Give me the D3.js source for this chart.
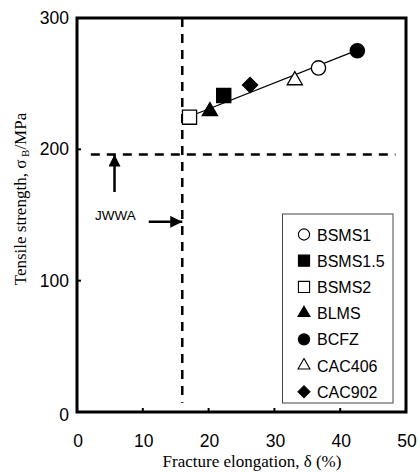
<!DOCTYPE html>
<html>
<head>
<meta charset="utf-8">
<script src="https://cdn.jsdelivr.net/npm/d3@7"></script>
<style>
  body { margin: 0; background: #fff; }
  svg { display: block; }
</style>
</head>
<body>
<div id="chart"></div>
<script>
// Data
const series = ["BSMS1", "BSMS1.5", "BSMS2", "BLMS", "BCFZ", "CAC406", "CAC902"];
const elongation = [36.7, 22.3, 17.1, 20.2, 42.6, 33.1, 26.3];
const strength = [262, 241, 224.5, 229, 275, 252.5, 249];
const shapes = ["circle", "square", "square", "triangle", "circle", "triangle", "diamond"];
const filled = [false, true, false, true, true, false, true];

const trendX = [17.1, 42.6];
const trendY = [225, 275.5];

const xTicks = [0, 10, 20, 30, 40, 50];
const yTicks = [0, 100, 200, 300];

// JWWA limits
const jwwaStrength = 196;
const jwwaElong = 16;

const width = 420, height = 472;
const margin = { left: 77, top: 18, right: 14, bottom: 60 };

const svg = d3.select('#chart')
    .append('svg')
    .attr('width', width)
    .attr('height', height);

const x = d3.scaleLinear().domain([0, 50]).range([margin.left, width - margin.right]);
const y = d3.scaleLinear().domain([0, 300]).range([height - margin.bottom, margin.top]);

const sans = "'Liberation Sans', Arial, sans-serif";
const serif = "'Liberation Serif', 'Times New Roman', serif";

// Reference lines
svg.append("line")
    .attr("x1", x(2.1)).attr("x2", x(48.4))
    .attr("y1", y(jwwaStrength)).attr("y2", y(jwwaStrength))
    .style("stroke", "#000").style("stroke-width", 2.5)
    .style("stroke-dasharray", "9,7");

svg.append("line")
    .attr("x1", x(jwwaElong)).attr("x2", x(jwwaElong))
    .attr("y1", y(300)).attr("y2", y(7))
    .style("stroke", "#000").style("stroke-width", 2.5)
    .style("stroke-dasharray", "9,7");

// Arrows
const defs = svg.append("defs");
defs.append("marker")
    .attr("id", "arrow")
    .attr("viewBox", "0 0 12 12")
    .attr("refX", 12).attr("refY", 6)
    .attr("markerWidth", 12).attr("markerHeight", 12)
    .attr("markerUnits", "userSpaceOnUse")
    .attr("orient", "auto")
    .append("path")
    .attr("d", "M0,0 L12,6 L0,12 Z")
    .style("fill", "#000");

svg.append("line")
    .attr("x1", x(5.7)).attr("x2", x(5.7))
    .attr("y1", y(167.5)).attr("y2", y(jwwaStrength))
    .style("stroke", "#000").style("stroke-width", 2.5)
    .attr("marker-end", "url(#arrow)");

svg.append("line")
    .attr("x1", x(10.9)).attr("x2", x(jwwaElong))
    .attr("y1", y(144.8)).attr("y2", y(144.8))
    .style("stroke", "#000").style("stroke-width", 2.5)
    .attr("marker-end", "url(#arrow)");

svg.append("text")
    .attr("x", 95).attr("y", 220)
    .style("font-family", sans).style("font-size", "13.5px")
    .text("JWWA");

// Trend line
svg.append("line")
    .attr("x1", x(trendX[0])).attr("y1", y(trendY[0]))
    .attr("x2", x(trendX[1])).attr("y2", y(trendY[1]))
    .style("stroke", "#000").style("stroke-width", 1.2);

// Marker shapes
function symbolPath(shape, big) {
    const k = big ? 1 : 0.62;
    switch (shape) {
        case "circle": return d3.symbol(d3.symbolCircle, 160 * k)();
        case "square": return d3.symbol(d3.symbolSquare, 200 * k)();
        case "triangle": return d3.symbol(d3.symbolTriangle, 100 * k)();
        case "diamond": return d3.symbol(d3.symbolSquare, 115 * k)();
    }
}

const points = series.map((name, i) => ({
    name, x: elongation[i], y: strength[i], shape: shapes[i], filled: filled[i]
}));

svg.append("g")
    .selectAll("path")
    .data(points)
    .join("path")
    .attr("d", d => symbolPath(d.shape, true))
    .attr("transform", d => `translate(${x(d.x)},${y(d.y)})` + (d.shape === "diamond" ? " rotate(45)" : ""))
    .style("fill", d => d.filled ? "#000" : "#fff")
    .style("stroke", "#000")
    .style("stroke-width", 1.3);

// Frame
svg.append("rect")
    .attr("x", x(0)).attr("y", y(300))
    .attr("width", x(50) - x(0)).attr("height", y(0) - y(300))
    .style("fill", "none").style("stroke", "#000").style("stroke-width", 3);

// Ticks (inward)
svg.append("g")
    .selectAll("line")
    .data(xTicks.slice(1, -1))
    .join("line")
    .attr("x1", d => x(d)).attr("x2", d => x(d))
    .attr("y1", y(0)).attr("y2", y(0) - 4)
    .style("stroke", "#000").style("stroke-width", 2);

svg.append("g")
    .selectAll("line")
    .data(yTicks.slice(1, -1))
    .join("line")
    .attr("x1", x(0)).attr("x2", x(0) + 4)
    .attr("y1", d => y(d)).attr("y2", d => y(d))
    .style("stroke", "#000").style("stroke-width", 2);

// Tick labels
svg.append("g")
    .selectAll("text")
    .data(xTicks)
    .join("text")
    .attr("x", d => x(d) + 1)
    .attr("y", 447)
    .attr("text-anchor", "middle")
    .style("font-family", sans).style("font-size", "17.5px")
    .text(d => d);

svg.append("g")
    .selectAll("text")
    .data(yTicks)
    .join("text")
    .attr("x", 69)
    .attr("y", d => y(d) + 6 + (d === 0 ? 3 : 0))
    .attr("text-anchor", "end")
    .style("font-family", sans).style("font-size", "17.5px")
    .text(d => d);

// Axis titles
svg.append("text")
    .attr("x", 252).attr("y", 467)
    .attr("text-anchor", "middle")
    .style("font-family", serif).style("font-size", "17px")
    .text("Fracture elongation, δ (%)");

const yTitle = svg.append("text")
    .attr("transform", "translate(26,199) rotate(-90)")
    .attr("text-anchor", "middle")
    .style("font-family", serif).style("font-size", "17px");
yTitle.append("tspan").text("Tensile strength, σ");
yTitle.append("tspan").attr("dy", 3).style("font-size", "11px").text(" B");
yTitle.append("tspan").attr("dy", -3).text("/MPa");

// Legend
const legend = svg.append("g");
legend.append("rect")
    .attr("x", 282.5).attr("y", 214)
    .attr("width", 110.5).attr("height", 189)
    .style("fill", "#fff").style("stroke", "#444").style("stroke-width", 1);

const item = legend.selectAll("g.item")
    .data(points)
    .join("g")
    .attr("class", "item")
    .attr("transform", (d, i) => `translate(304,${234.5 + i * 26.2})`);

item.append("path")
    .attr("d", d => symbolPath(d.shape, false))
    .attr("transform", d => d.shape === "diamond" ? "rotate(45)" : null)
    .style("fill", d => d.filled ? "#000" : "#fff")
    .style("stroke", "#000")
    .style("stroke-width", 1.1);

item.append("text")
    .attr("x", 13).attr("y", 6)
    .style("font-family", sans).style("font-size", "16px")
    .text(d => d.name);
</script>
</body>
</html>
